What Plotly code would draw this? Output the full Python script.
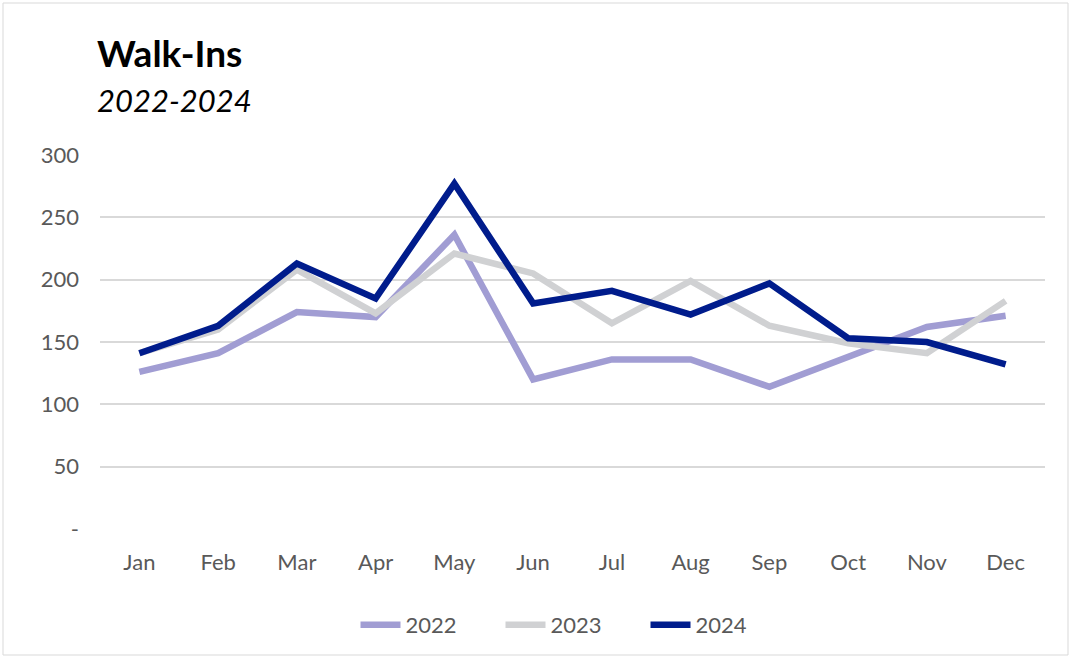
import plotly.graph_objects as go

months = ["Jan", "Feb", "Mar", "Apr", "May", "Jun", "Jul", "Aug", "Sep", "Oct", "Nov", "Dec"]
y2022 = [126, 141, 174, 170, 236, 120, 136, 136, 114, 138, 162, 171]
y2023 = [141, 160, 208, 173, 221, 205, 165, 199, 163, 149, 141, 183]
y2024 = [141, 163, 213, 185, 277, 181, 191, 172, 197, 153, 150, 132]

series = [("2022", y2022, "#A19DD3"), ("2023", y2023, "#D0D1D3"), ("2024", y2024, "#001C8C")]

FONT = "Lato, 'Open Sans', sans-serif"

fig = go.Figure()
for name, vals, col in series:
    fig.add_trace(go.Scatter(x=months, y=vals, name=name, mode="lines",
                             line=dict(color=col, width=6.5)))

W, H = 1073, 659
L, R, T, B = 100, 28, 155, 130
pw, ph = W - L - R, H - T - B

def px(x):
    return (x - L) / pw

def py(y):
    return (H - B - y) / ph

fig.update_layout(
    width=W, height=H,
    margin=dict(l=L, r=R, t=T, b=B),
    paper_bgcolor="white", plot_bgcolor="white",
    font=dict(family=FONT, color="#595959", size=22),
    showlegend=True,
    legend=dict(orientation="h", x=px(573), xanchor="center", y=py(625), yanchor="middle",
                font=dict(size=22, color="#595959"), itemwidth=40, entrywidth=90),
    xaxis=dict(type="category", range=[-0.5, 11.5], showgrid=False, showline=False,
               ticks="", ticklabelstandoff=18, tickfont=dict(size=22, color="#595959")),
    yaxis=dict(range=[0, 300], tickvals=[0, 50, 100, 150, 200, 250, 300],
               ticktext=["-", "50", "100", "150", "200", "250", "300"],
               showgrid=True, gridcolor="#D9D9D9", gridwidth=2, zeroline=False,
               showline=False, ticks="", ticklabelstandoff=20,
               tickfont=dict(size=22, color="#595959")),
    shapes=[dict(type="rect", xref="paper", yref="paper",
                 x0=px(3), x1=px(1068), y0=py(655), y1=py(3),
                 line=dict(color="#D9D9D9", width=1), fillcolor="rgba(0,0,0,0)", layer="below")],
    annotations=[
        dict(text="<b>Walk-Ins</b>", xref="paper", yref="paper", x=px(95), y=py(52),
             xanchor="left", yanchor="middle", showarrow=False,
             font=dict(size=37, color="black", family=FONT)),
        dict(text="<i>2022-2024</i>", xref="paper", yref="paper", x=px(95), y=py(100),
             xanchor="left", yanchor="middle", showarrow=False,
             font=dict(size=31, color="black", family=FONT)),
    ],
)

fig.write_html("out.html", config={"displayModeBar": False},
               post_script="document.body.style.margin='0';")
